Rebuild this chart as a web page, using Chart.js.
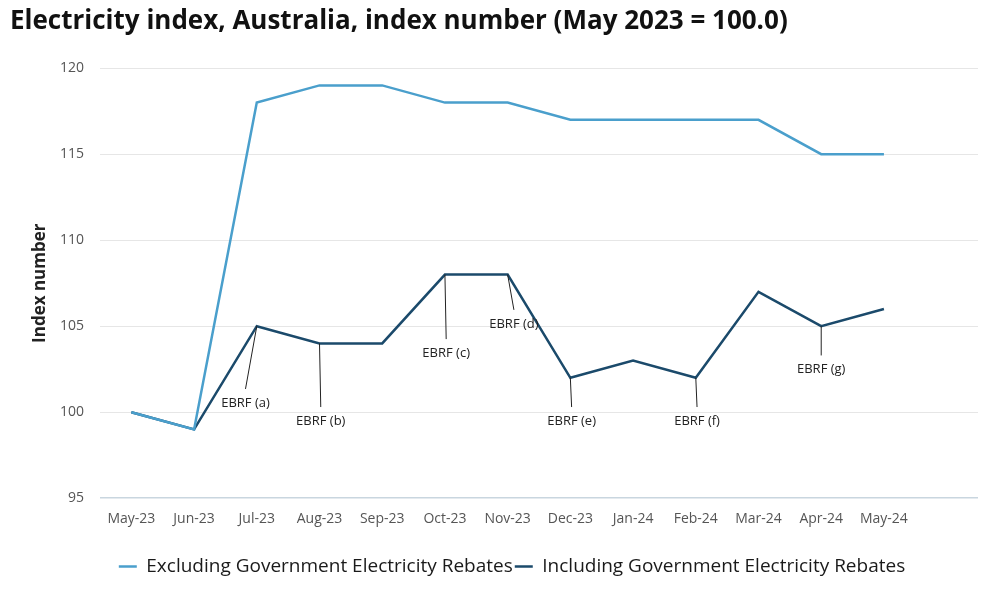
<!DOCTYPE html>
<html>
<head>
<meta charset="utf-8">
<script src="https://cdn.jsdelivr.net/npm/chart.js@4/dist/chart.umd.min.js"></script>
<style>
  html, body { margin: 0; padding: 0; background: #fff; }
  #wrap { width: 1000px; height: 595px; }
</style>
</head>
<body>
<div id="wrap"><canvas id="chart"></canvas></div>
<script>
const months = ["May-23", "Jun-23", "Jul-23", "Aug-23", "Sep-23", "Oct-23", "Nov-23",
  "Dec-23", "Jan-24", "Feb-24", "Mar-24", "Apr-24", "May-24", ""]
const excluding = [100, 99, 118, 119, 119, 118, 118, 117, 117, 117, 117, 115, 115, null]
const including = [100, 99, 105, 104, 104, 108, 108, 102, 103, 102, 107, 105, 106, null]
const yTicks = [95, 100, 105, 110, 115, 120]

// EBRF callouts: month index of the point, where the leader line ends (index, value)
const noteLabels = ["EBRF (a)", "EBRF (b)", "EBRF (c)", "EBRF (d)", "EBRF (e)", "EBRF (f)", "EBRF (g)"]
const noteIndex = [2, 3, 5, 6, 7, 9, 11]
const noteEndIndex = [1.82, 3.02, 5.02, 6.1, 7.02, 9.02, 11]
const noteEndValue = [101.35, 100.3, 104.25, 105.95, 100.3, 100.3, 103.3]

const font = "'Open Sans', 'Noto Sans', sans-serif"

const notesPlugin = {
  id: "notes",
  afterDatasetsDraw(chart) {
    let ctx = chart.ctx
    let x = chart.scales.x
    let y = chart.scales.y
    ctx.save()
    ctx.strokeStyle = "#222"
    ctx.lineWidth = 1
    ctx.fillStyle = "#222"
    ctx.font = "13px " + font
    ctx.textAlign = "center"
    ctx.textBaseline = "middle"
    noteLabels.forEach((label, i) => {
      let x1 = x.getPixelForValue(noteIndex[i])
      let y1 = y.getPixelForValue(including[noteIndex[i]])
      let x2 = x.getPixelForValue(noteEndIndex[i])
      let y2 = y.getPixelForValue(noteEndValue[i])
      ctx.beginPath()
      ctx.moveTo(x1, y1)
      ctx.lineTo(x2, y2)
      ctx.stroke()
      ctx.fillText(label, x2, y2 + 14)
    })
    ctx.restore()
  }
}

// the legend sits a little right of the page centre in the original
const legendShift = {
  id: "legendShift",
  afterLayout(chart) {
    chart.legend.left += 18
    chart.legend.right += 18
  }
}

let chart = new Chart(document.getElementById("chart"), {
  type: "line",
  data: {
    labels: months,
    datasets: [
      {
        label: "Excluding Government Electricity Rebates",
        data: excluding,
        borderColor: "#4a9fcc",
        backgroundColor: "#4a9fcc",
        borderWidth: 2.5,
        pointRadius: 0,
        tension: 0
      },
      {
        label: "Including Government Electricity Rebates",
        data: including,
        borderColor: "#1b4a6b",
        backgroundColor: "#1b4a6b",
        borderWidth: 2.5,
        pointRadius: 0,
        tension: 0
      }
    ]
  },
  options: {
    responsive: true,
    maintainAspectRatio: false,
    animation: false,
    layout: { padding: { left: 10, right: 22, top: 0, bottom: 9 } },
    plugins: {
      title: {
        display: true,
        text: "Electricity index, Australia, index number (May 2023 = 100.0)",
        align: "start",
        color: "#111",
        font: { family: font, size: 26, weight: "bold" },
        padding: { top: 6, bottom: 31 }
      },
      legend: {
        position: "bottom",
        labels: {
          usePointStyle: true,
          pointStyle: "line",
          pointStyleWidth: 18,
          padding: 2,
          color: "#1a1a1a",
          font: { family: font, size: 19, weight: "500" }
        }
      },
      tooltip: { enabled: false }
    },
    scales: {
      x: {
        offset: true,
        grid: { display: false, drawTicks: false },
        border: { display: false },
        afterFit: axis => { axis.height += 16 },
        ticks: {
          color: "#555",
          padding: 12,
          maxRotation: 0,
          autoSkip: false,
          font: { family: font, size: 14 }
        }
      },
      y: {
        min: 95,
        max: 120,
        afterBuildTicks: axis => {
          axis.ticks = yTicks.map(v => ({ value: v }))
        },
        afterFit: axis => { axis.width = 90 },
        title: {
          display: true,
          text: "Index number",
          color: "#222",
          font: { family: font, size: 17, weight: "bold" },
          padding: { top: 20, bottom: 0 }
        },
        grid: {
          color: ctx => ctx.tick.value == 95 ? "#c9d6df" : "#e6e6e6",
          lineWidth: ctx => ctx.tick.value == 95 ? 1.5 : 1,
          drawTicks: false
        },
        border: { display: false },
        ticks: {
          color: "#555",
          padding: 16,
          font: { family: font, size: 14 }
        }
      }
    }
  },
  plugins: [notesPlugin, legendShift]
})
</script>
</body>
</html>
